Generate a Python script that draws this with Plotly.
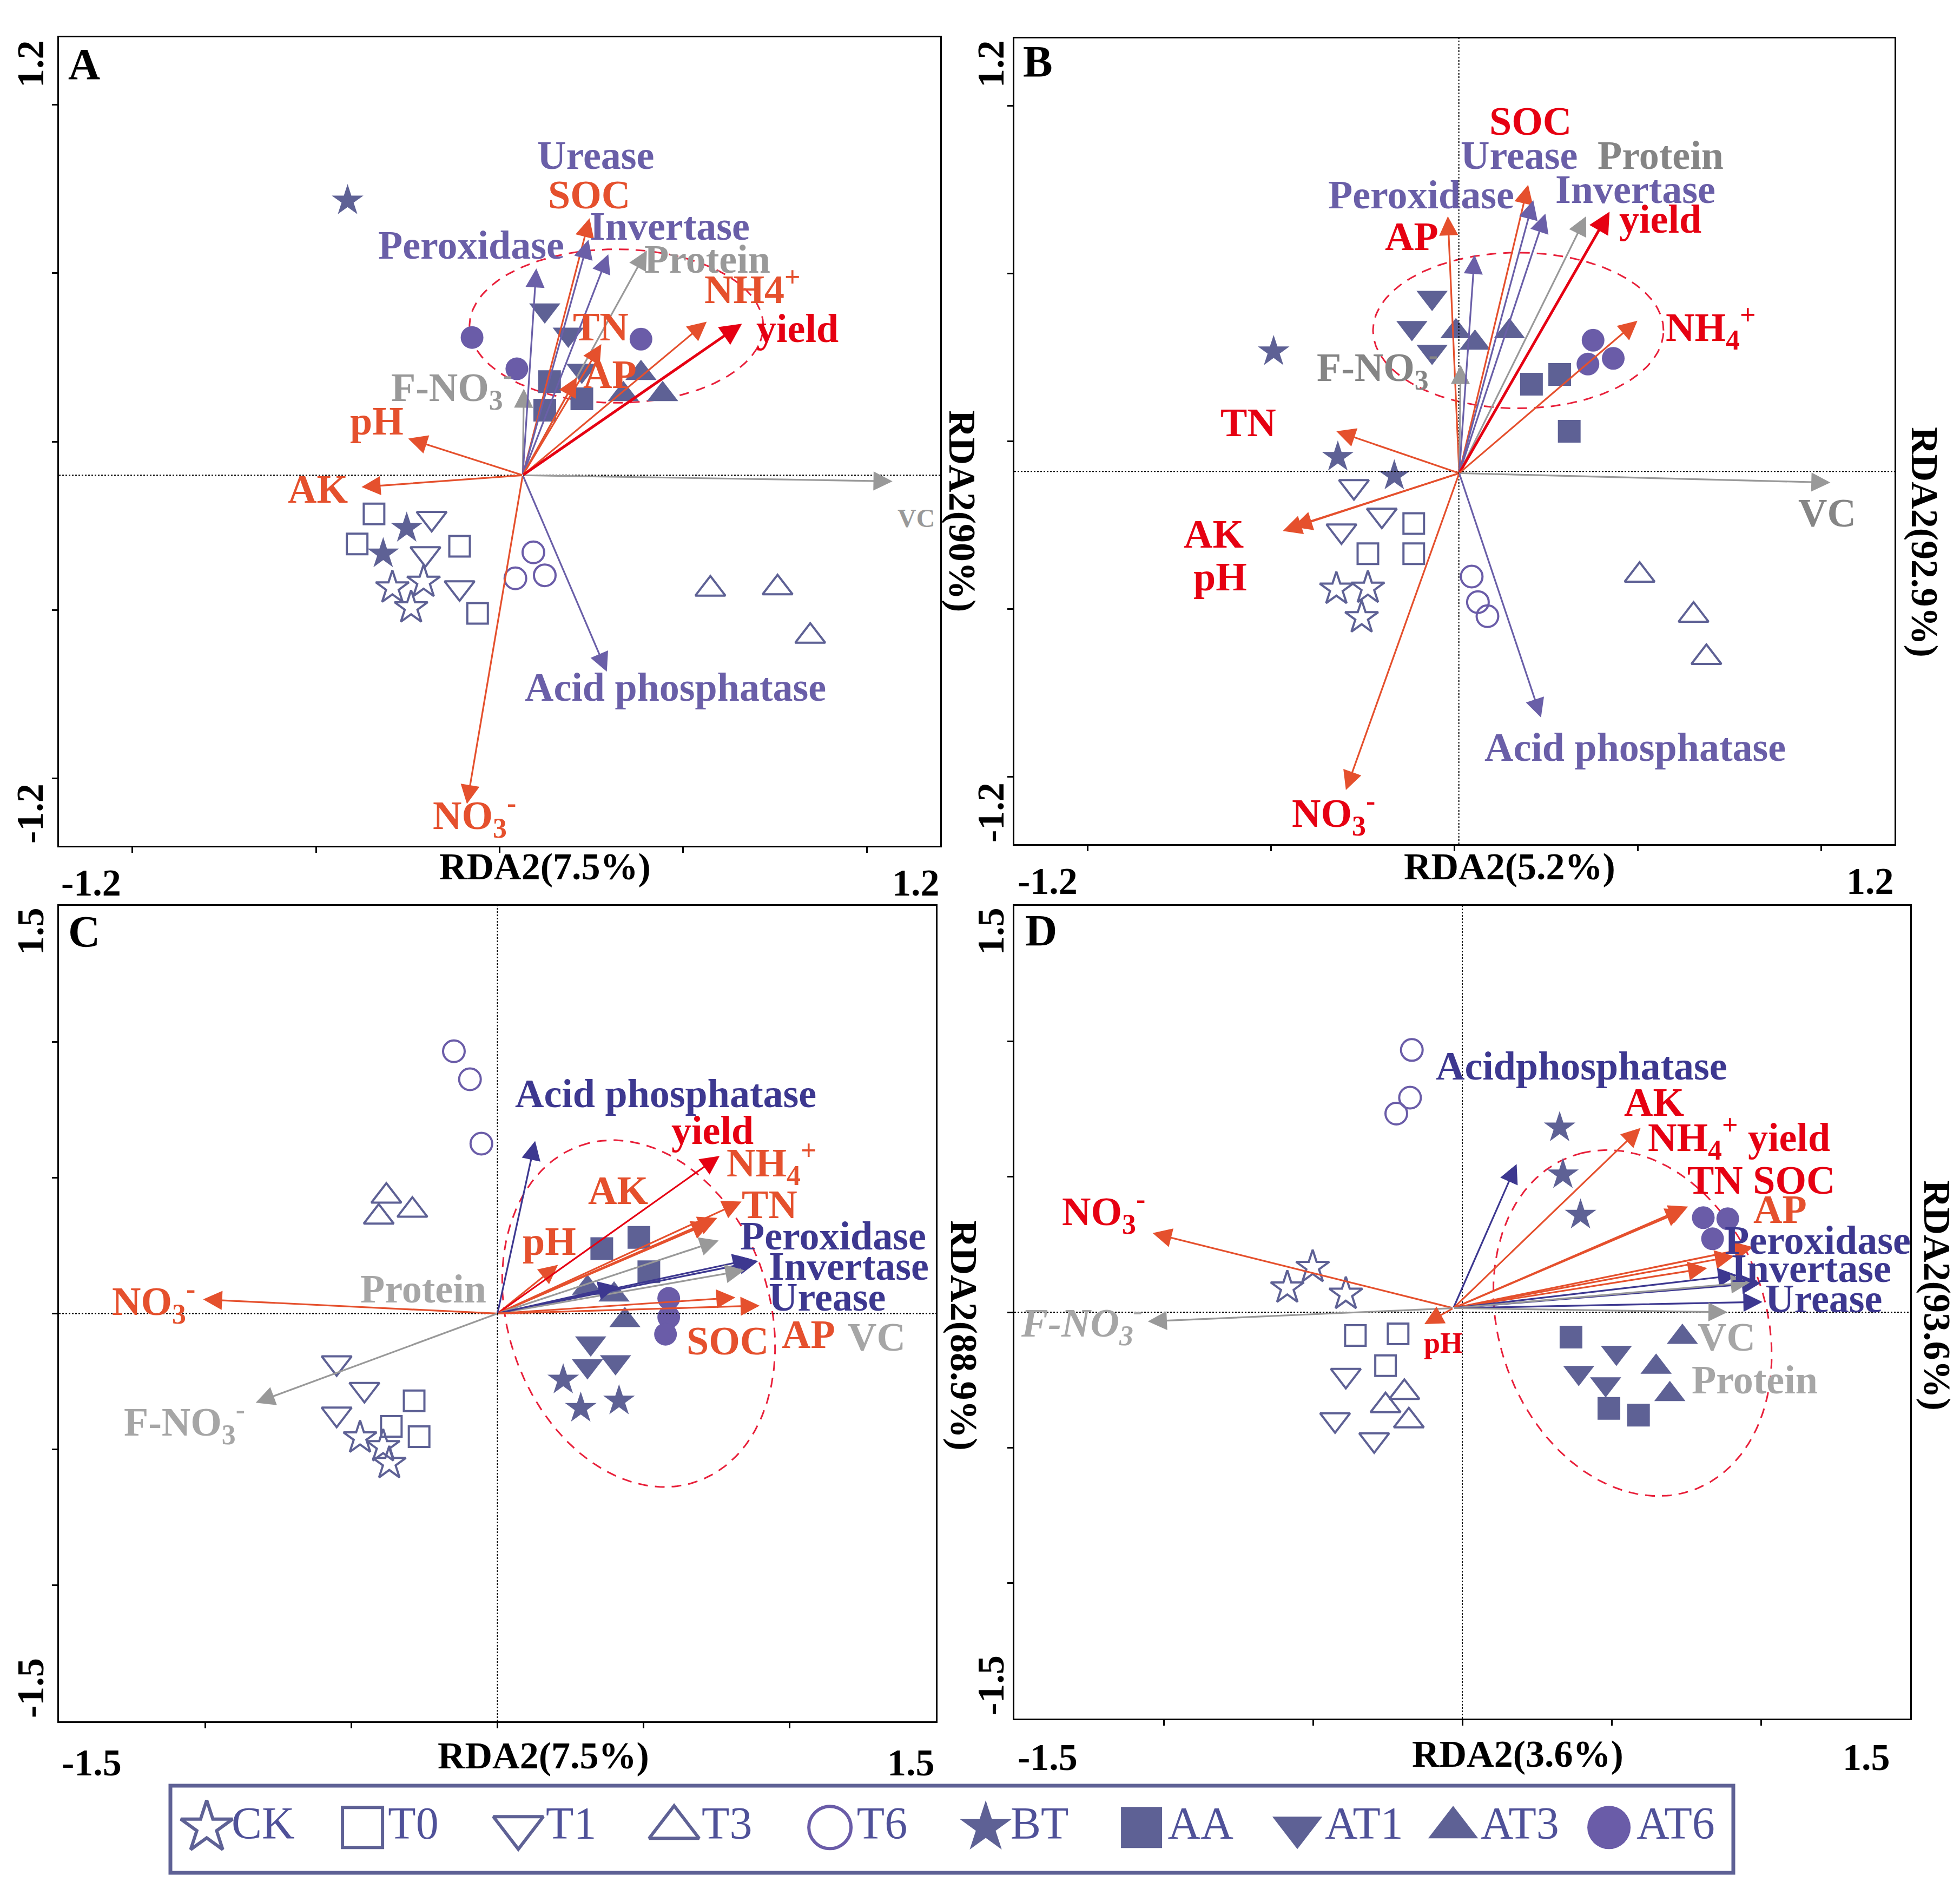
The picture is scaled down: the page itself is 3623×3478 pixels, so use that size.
import numpy as np
import plotly.graph_objects as go

W, H = 3623, 3478
FONT = "Liberation Serif"

# ---------------- data ----------------
GROUPS = ["CK", "T0", "T1", "T3", "T6", "BT", "AA", "AT1", "AT3", "AT6"]

STD_GROUP = ["CK"] * 3 + ["T0"] * 3 + ["T1"] * 3 + ["T3"] * 3 + ["T6"] * 3 + \
            ["BT"] * 3 + ["AA"] * 3 + ["AT1"] * 3 + ["AT3"] * 3 + ["AT6"] * 3

# Panel A (RDA1 90 %, RDA2 7.5 %)
A_SCORE_GROUP = ["CK"] * 3 + ["T0"] * 4 + ["T1"] * 3 + ["T3"] * 3 + ["T6"] * 3 + \
                ["BT"] * 3 + ["AA"] * 3 + ["AT1"] * 3 + ["AT3"] * 3 + ["AT6"] * 3
A_SCORE_X = [-0.292, -0.207, -0.241, -0.342, -0.388, -0.109, -0.060, -0.185, -0.202, -0.109,
             0.574, 0.757, 0.846, 0.092, 0.043, 0.123, -0.414, -0.253, -0.317,
             0.136, 0.123, 0.224, 0.123, 0.187, 0.224, 0.385, 0.337, 0.444, -0.075, 0.047, 0.385]
A_SCORE_Y = [-0.434, -0.417, -0.493, -0.215, -0.304, -0.311, -0.510, -0.228, -0.333, -0.434,
             -0.438, -0.434, -0.578, -0.329, -0.406, -0.397, 0.715, -0.257, -0.333,
             0.178, 0.093, 0.127, 0.390, 0.318, 0.211, 0.203, 0.140, 0.140, 0.309, 0.216, 0.304]
A_VAR = ["VC", "AK", "pH", "F-NO3-", "NO3-", "Acid phosphatase", "Peroxidase", "SOC", "Urease",
         "Invertase", "Protein", "TN", "AP", "NH4+", "yield"]
A_VAR_X = [1.070, -0.376, -0.249, 0.066, -0.089, 0.292, 0.100, 0.245, 0.242, 0.296, 0.401, 0.277, 0.21, 0.564, 0.660]
A_VAR_Y = [-0.118, -0.135, 0.009, 0.157, -1.076, -0.683, 0.514, 0.663, 0.599, 0.556, 0.567, 0.289, 0.19, 0.356, 0.350]
A_ORIGIN = [0.063, -0.100]

# Panel B (RDA1 92.9 %, RDA2 5.2 %)
B_SCORE_GROUP = STD_GROUP
B_SCORE_X = [-0.322, -0.236, -0.253, -0.111, -0.236, -0.111, -0.274, -0.198, -0.308,
             0.505, 0.652, 0.687, 0.047, 0.064, 0.090, -0.493, -0.318, -0.164,
             0.210, 0.287, 0.313, -0.061, -0.116, -0.061, 0.004, 0.056, 0.150, 0.378, 0.364, 0.433]
B_SCORE_Y = [-0.440, -0.437, -0.525, -0.245, -0.335, -0.335, -0.135, -0.220, -0.267,
             -0.399, -0.518, -0.644, -0.403, -0.479, -0.521, 0.267, -0.047, -0.103,
             0.170, 0.199, 0.030, 0.428, 0.338, 0.267, 0.327, 0.293, 0.327, 0.301, 0.230, 0.247]
B_VAR = ["VC", "AK", "pH", "TN", "NO3-", "Acid phosphatase", "AP", "F-NO3-", "Peroxidase", "SOC",
         "Urease", "Invertase", "Protein", "yield", "NH4+"]
B_VAR_X = [1.025, -0.468, -0.440, -0.322, -0.296, 0.236, -0.018, 0.017, 0.055, 0.201, 0.215, 0.248, 0.359, 0.423, 0.499]
B_VAR_Y = [-0.123, -0.267, -0.255, 0.030, -1.039, -0.823, 0.670, 0.227, 0.555, 0.764, 0.718, 0.678, 0.670, 0.684, 0.359]
B_ORIGIN = [0.013, -0.095]

# Panel C (RDA1 88.9 %, RDA2 7.5 %)
C_SCORE_GROUP = STD_GROUP
C_SCORE_X = [-0.470, -0.391, -0.370, -0.285, -0.363, -0.268, -0.550, -0.455, -0.550,
             -0.380, -0.406, -0.291, -0.149, -0.094, -0.055, 0.225, 0.285, 0.416,
             0.357, 0.484, 0.518, 0.319, 0.308, 0.404, 0.308, 0.399, 0.436, 0.586, 0.586, 0.575]
C_SCORE_Y = [-0.457, -0.489, -0.551, -0.321, -0.415, -0.453, -0.181, -0.279, -0.370,
             0.432, 0.355, 0.380, 0.965, 0.862, 0.625, -0.244, -0.348, -0.321,
             0.239, 0.280, 0.154, -0.109, -0.193, -0.178, 0.094, 0.069, -0.025, 0.056, -0.013, -0.076]
C_VAR = ["NO3-", "F-NO3-", "Acid phosphatase", "pH", "yield", "NH4+", "TN", "AK", "Protein",
         "Peroxidase", "Invertase", "VC", "Urease", "SOC", "AP"]
C_VAR_X = [-1.007, -0.827, 0.129, 0.207, 0.760, 0.835, 0.752, 0.730, 0.757, 0.870, 0.892, 0.845, 0.410, 0.814, 0.897]
C_VAR_Y = [0.052, -0.328, 0.635, 0.179, 0.580, 0.412, 0.352, 0.335, 0.269, 0.200, 0.193, 0.159, 0.100, 0.059, 0.029]
C_ORIGIN = [0.0, 0.0]

# Panel D (RDA1 93.6 %, RDA2 3.6 %)
D_SCORE_GROUP = STD_GROUP
D_SCORE_X = [-0.501, -0.586, -0.390, -0.358, -0.215, -0.257, -0.390, -0.426, -0.295,
             -0.194, -0.257, -0.179, -0.169, -0.175, -0.221, 0.326, 0.337, 0.396,
             0.364, 0.491, 0.590, 0.516, 0.390, 0.480, 0.737, 0.649, 0.695, 0.807, 0.889, 0.838]
D_SCORE_Y = [0.166, 0.090, 0.067, -0.086, -0.080, -0.197, -0.233, -0.397, -0.471,
             -0.296, -0.345, -0.401, 0.968, 0.792, 0.733, 0.681, 0.508, 0.359,
             -0.092, -0.355, -0.380, -0.149, -0.223, -0.265, -0.092, -0.202, -0.303, 0.349, 0.345, 0.271]
D_VAR = ["NO3-", "F-NO3-", "pH", "Acid phosphatase", "AK", "NH4+", "TN", "yield", "SOC", "AP",
         "Peroxidase", "Invertase", "Protein", "Urease", "VC"]
D_VAR_X = [-1.037, -1.053, -0.127, 0.182, 0.597, 0.756, 0.745, 0.974, 0.910, 0.820, 0.920, 1.000, 0.963, 1.005, 0.888]
D_VAR_Y = [0.292, -0.034, -0.044, 0.547, 0.680, 0.390, 0.378, 0.240, 0.207, 0.163, 0.137, 0.108, 0.110, 0.038, 0.000]
D_ORIGIN = [-0.030, 0.015]

AXIS_LIMIT = {"A": 1.2, "B": 1.2, "C": 1.5, "D": 1.5}
X_TITLE = {"A": "RDA2(7.5%)", "B": "RDA2(5.2%)", "C": "RDA2(7.5%)", "D": "RDA2(3.6%)"}
Y_TITLE = {"A": "RDA2(90%)", "B": "RDA2(92.9%)", "C": "RDA2(88.9%)", "D": "RDA2(93.6%)"}

# ---------------- styles ----------------
SLATE = "#5e6195"
PURPLE_PT = "#6a5ca8"
ORANGE = "#e5502d"
RED = "#e60012"
PURPLE = "#6a5fa8"
DBLUE = "#3d3890"
GRAY = "#999999"
LGRAY = "#a6a6a6"
DGRAY = "#858585"
ELL = "#e8203a"

SYMBOL = {"CK": "star-open", "T0": "square-open", "T1": "triangle-down-open", "T3": "triangle-up-open",
          "T6": "circle-open", "BT": "star", "AA": "square", "AT1": "triangle-down",
          "AT3": "triangle-up", "AT6": "circle"}
SIZE = {"CK": 46, "T0": 38, "T1": 48, "T3": 48, "T6": 40, "BT": 44, "AA": 42, "AT1": 50, "AT3": 50, "AT6": 42}
LEG_SIZE = {"CK": 72, "T0": 74, "T1": 80, "T3": 80, "T6": 78, "BT": 72, "AA": 76, "AT1": 80, "AT3": 80, "AT6": 80}
GCOLOR = {g: SLATE for g in GROUPS}
GCOLOR["T6"] = PURPLE_PT
GCOLOR["AT6"] = PURPLE_PT

KIND = {"AK": "nut", "pH": "nut", "TN": "nut", "AP": "nut", "SOC": "nut", "NH4+": "nut", "NO3-": "nut",
        "yield": "yield", "VC": "qual", "Protein": "qual", "F-NO3-": "qual",
        "Urease": "enz", "Invertase": "enz", "Peroxidase": "enz", "Acid phosphatase": "enz"}
ARROW_COLOR = {
    "A": {"nut": ORANGE, "yield": RED, "qual": GRAY, "enz": PURPLE},
    "B": {"nut": ORANGE, "yield": RED, "qual": GRAY, "enz": PURPLE},
    "C": {"nut": ORANGE, "yield": RED, "qual": GRAY, "enz": DBLUE},
    "D": {"nut": ORANGE, "yield": ORANGE, "qual": GRAY, "enz": DBLUE},
}

NO3 = "NO<sub>3</sub><sup>-</sup>"
FNO3 = "F-NO<sub>3</sub><sup>-</sup>"
NH4 = "NH<sub>4</sub><sup>+</sup>"

# label placement (layout config): text, x, y, colour, font size
LABELS = {
    "A": [("Urease", 0.261, 0.850, PURPLE, 74), ("SOC", 0.244, 0.732, ORANGE, 74),
          ("Invertase", 0.464, 0.639, PURPLE, 74), ("Peroxidase", -0.077, 0.583, PURPLE, 74),
          ("Protein", 0.566, 0.541, GRAY, 74), ("NH4<sup>+</sup>", 0.689, 0.460, ORANGE, 74),
          ("yield", 0.811, 0.335, RED, 74), ("TN", 0.275, 0.340, ORANGE, 74),
          ("AP", 0.300, 0.200, ORANGE, 74), (FNO3, -0.131, 0.160, GRAY, 74),
          ("pH", -0.334, 0.061, ORANGE, 74), ("AK", -0.495, -0.142, ORANGE, 74),
          ("VC", 1.134, -0.228, GRAY, 48), ("Acid phosphatase", 0.479, -0.730, PURPLE, 74),
          (NO3, -0.069, -1.110, ORANGE, 74)],
    "B": [("SOC", 0.207, 0.954, RED, 74), ("Urease", 0.176, 0.852, PURPLE, 74),
          ("Protein", 0.562, 0.852, DGRAY, 74), ("Peroxidase", -0.090, 0.734, PURPLE, 74),
          ("Invertase", 0.493, 0.751, PURPLE, 74), ("AP", -0.116, 0.610, RED, 74),
          ("yield", 0.562, 0.661, RED, 74), (NH4, 0.699, 0.340, RED, 74),
          (FNO3, -0.210, 0.220, DGRAY, 74), ("TN", -0.562, 0.055, RED, 74),
          ("AK", -0.656, -0.276, RED, 74), ("pH", -0.639, -0.403, RED, 74),
          ("VC", 1.016, -0.213, DGRAY, 74), ("Acid phosphatase", 0.493, -0.912, PURPLE, 74),
          (NO3, -0.330, -1.108, RED, 74)],
    "C": [("Acid phosphatase", 0.576, 0.809, DBLUE, 74), ("yield", 0.735, 0.673, RED, 74),
          (NH4, 0.937, 0.555, ORANGE, 74), ("AK", 0.412, 0.453, ORANGE, 74),
          ("TN", 0.930, 0.401, ORANGE, 74), ("pH", 0.178, 0.265, ORANGE, 74),
          ("Peroxidase", 1.149, 0.286, DBLUE, 74), ("Invertase", 1.202, 0.175, DBLUE, 74),
          ("Urease", 1.128, 0.060, DBLUE, 74), ("Protein", -0.253, 0.091, LGRAY, 74),
          (NO3, -1.177, 0.045, ORANGE, 74), ("SOC", 0.788, -0.101, ORANGE, 74),
          ("AP", 1.064, -0.076, ORANGE, 74), ("VC", 1.298, -0.087, LGRAY, 74),
          (FNO3, -1.071, -0.400, LGRAY, 74)],
    "D": [("Acidphosphatase", 0.400, 0.908, DBLUE, 74), ("AK", 0.642, 0.775, RED, 74),
          (NH4 + " yield", 0.927, 0.645, RED, 74), ("TN SOC", 1.001, 0.487, RED, 74),
          ("AP", 1.064, 0.380, ORANGE, 74), ("Peroxidase", 1.190, 0.265, DBLUE, 74),
          ("Invertase", 1.169, 0.162, DBLUE, 74), ("Urease", 1.211, 0.050, DBLUE, 74),
          ("VC", 0.885, -0.092, LGRAY, 74), ("Protein", 0.979, -0.250, LGRAY, 74),
          (NO3, -1.201, 0.372, RED, 74), ("<i>" + FNO3 + "</i>", -1.275, -0.040, LGRAY, 74),
          ("pH", -0.063, -0.113, RED, 54)],
}

# dashed group ellipses: centre x, centre y, semi-axis a, semi-axis b, angle (deg)
ELLIPSE = {"A": (0.318, 0.343, 0.400, 0.228, 0.0),
           "B": (0.174, 0.330, 0.396, 0.232, 0.0),
           "C": (0.483, 0.000, 0.650, 0.450, 105.4),
           "D": (0.570, -0.040, 0.650, 0.450, 105.0)}
# dotted reference lines (h, v); None = not drawn
REFLINES = {"A": (-0.100, None), "B": (-0.090, 0.012), "C": (0.0, 0.0), "D": (0.0, 0.0)}

# panel boxes in pixels (left, right, top, bottom)
BOX = {"A": (101, 1730, 61, 1555), "B": (1867, 3494, 63, 1552),
       "C": (101, 1722, 1666, 3173), "D": (1867, 3523, 1666, 3168)}
# text positions in pixels
PIXTEXT = {
    "A": dict(xl=(160, 1623), xr=(1685, 1623), xt=(999, 1594), yt=(48, 110), yb=(48, 1496), rt=(1771, 936), let=(147, 110)),
    "B": dict(xl=(1928, 1620), xr=(3449, 1620), xt=(2782, 1594), yt=(1823, 110), yb=(1823, 1494), rt=(3550, 994), let=(1910, 105)),
    "C": dict(xl=(161, 3249), xr=(1676, 3249), xt=(996, 3236), yt=(48, 1713), yb=(48, 3112), rt=(1774, 2460), let=(147, 1713)),
    "D": dict(xl=(1928, 3239), xr=(3442, 3239), xt=(2797, 3233), yt=(1823, 1713), yb=(1823, 3107), rt=(3573, 2386), let=(1916, 1711)),
}

DATA = {
    "A": (A_SCORE_GROUP, A_SCORE_X, A_SCORE_Y, A_VAR, A_VAR_X, A_VAR_Y, A_ORIGIN),
    "B": (B_SCORE_GROUP, B_SCORE_X, B_SCORE_Y, B_VAR, B_VAR_X, B_VAR_Y, B_ORIGIN),
    "C": (C_SCORE_GROUP, C_SCORE_X, C_SCORE_Y, C_VAR, C_VAR_X, C_VAR_Y, C_ORIGIN),
    "D": (D_SCORE_GROUP, D_SCORE_X, D_SCORE_Y, D_VAR, D_VAR_X, D_VAR_Y, D_ORIGIN),
}

fig = go.Figure()
layout = dict(width=W, height=H, margin=dict(l=0, r=0, t=0, b=0),
              paper_bgcolor="white", plot_bgcolor="white", showlegend=False)
annotations = []
shapes = []


def px(xp, yp):
    return xp / W, 1 - yp / H


for i, key in enumerate(["A", "B", "C", "D"]):
    n = "" if i == 0 else str(i + 1)
    xr, yr = "x" + n, "y" + n
    lim = AXIS_LIMIT[key]
    l, r, t, b = BOX[key]
    ax_common = dict(range=[-lim, lim], showgrid=False, zeroline=False, showline=True, mirror=True,
                     linecolor="black", linewidth=3, ticks="outside", ticklen=10, tickwidth=3,
                     tickcolor="black", tickvals=[-1, -0.5, 0, 0.5, 1], showticklabels=False,
                     fixedrange=True)
    layout["xaxis" + n] = dict(ax_common, domain=[l / W, r / W], anchor=yr)
    layout["yaxis" + n] = dict(ax_common, domain=[1 - b / H, 1 - t / H], anchor=xr)

    grp, sx, sy, var, vx, vy, org = DATA[key]

    # reference lines
    hy, vx0 = REFLINES[key]
    if hy is not None:
        shapes.append(dict(type="line", xref=xr, yref=yr, x0=-lim, x1=lim, y0=hy, y1=hy,
                           line=dict(color="black", width=2, dash="dot")))
    if vx0 is not None:
        shapes.append(dict(type="line", xref=xr, yref=yr, x0=vx0, x1=vx0, y0=-lim, y1=lim,
                           line=dict(color="black", width=2, dash="dot")))

    # ellipse
    cx, cy, ea, eb, ang = ELLIPSE[key]
    tt = np.linspace(0, 2 * np.pi, 240)
    th = np.deg2rad(ang)
    ex = cx + ea * np.cos(tt) * np.cos(th) - eb * np.sin(tt) * np.sin(th)
    ey = cy + ea * np.cos(tt) * np.sin(th) + eb * np.sin(tt) * np.cos(th)
    fig.add_trace(go.Scatter(x=ex, y=ey, mode="lines", xaxis=xr, yaxis=yr, hoverinfo="skip",
                             line=dict(color=ELL, width=3, dash="18px,13px")))

    # sample scores
    for g in GROUPS:
        xs = [x for gg, x in zip(grp, sx) if gg == g]
        ys = [y for gg, y in zip(grp, sy) if gg == g]
        openm = SYMBOL[g].endswith("open")
        fig.add_trace(go.Scatter(
            x=xs, y=ys, mode="markers", xaxis=xr, yaxis=yr, name=g, cliponaxis=False,
            marker=dict(symbol=SYMBOL[g], size=SIZE[g], color=GCOLOR[g],
                        line=dict(width=4 if openm else 0, color=GCOLOR[g]))))

    # arrows
    for name, tx, ty in zip(var, vx, vy):
        kind = KIND[name]
        w = 5 if kind == "yield" and key in ("A", "B") else 3.2
        annotations.append(dict(x=tx, y=ty, ax=org[0], ay=org[1], xref=xr, yref=yr, axref=xr, ayref=yr,
                                text="", showarrow=True, arrowhead=2, arrowsize=1.6 if w > 4 else 2.2,
                                arrowwidth=w, arrowcolor=ARROW_COLOR[key][kind], standoff=0))

    # labels
    for txt, lx, ly, col, fs in LABELS[key]:
        annotations.append(dict(x=lx, y=ly, xref=xr, yref=yr, text="<b>" + txt + "</b>", showarrow=False,
                                xanchor="center", yanchor="middle",
                                font=dict(family=FONT, size=fs, color=col)))

    # axis texts
    P = PIXTEXT[key]
    lab = "1.2" if lim == 1.2 else "1.5"
    items = [("-" + lab, P["xl"], 0, 70), (lab, P["xr"], 0, 70), (X_TITLE[key], P["xt"], 0, 70),
             (lab, P["yt"], -90, 70), ("-" + lab, P["yb"], -90, 70), (Y_TITLE[key], P["rt"], 90, 70),
             (key, P["let"], 0, 82)]
    for txt, (ppx, ppy), angle, fs in items:
        xx, yy = px(ppx, ppy)
        annotations.append(dict(x=xx, y=yy, xref="paper", yref="paper", text="<b>" + txt + "</b>",
                                showarrow=False, textangle=angle, xanchor="center", yanchor="middle",
                                font=dict(family=FONT, size=fs, color="black")))

# ---------------- custom legend ----------------
LEG_BOX = (307, 3196, 3292, 3453)
n_items = len(GROUPS)
span = (LEG_BOX[1] - LEG_BOX[0]) / 288.0
layout["xaxis5"] = dict(domain=[LEG_BOX[0] / W, LEG_BOX[1] / W], range=[0, span], visible=False,
                        fixedrange=True, anchor="y5")
layout["yaxis5"] = dict(domain=[1 - LEG_BOX[3] / H, 1 - LEG_BOX[2] / H], range=[0, 1], visible=False,
                        fixedrange=True, anchor="x5")
for k, g in enumerate(GROUPS):
    openm = SYMBOL[g].endswith("open")
    fig.add_trace(go.Scatter(
        x=[k + 0.233], y=[0.52], mode="markers+text", xaxis="x5", yaxis="y5", cliponaxis=False,
        text=[g], textposition="middle right",
        textfont=dict(family=FONT, size=84, color="#4f5199"),
        marker=dict(symbol=SYMBOL[g], size=LEG_SIZE[g], color=GCOLOR[g],
                    line=dict(width=6 if openm else 0, color=GCOLOR[g])),
        hoverinfo="skip"))
shapes.append(dict(type="rect", xref="paper", yref="paper",
                   x0=LEG_BOX[0] / W, x1=LEG_BOX[1] / W, y0=1 - LEG_BOX[3] / H, y1=1 - LEG_BOX[2] / H,
                   line=dict(color=SLATE, width=7), fillcolor="rgba(0,0,0,0)"))

layout["annotations"] = annotations
layout["shapes"] = shapes
fig.update_layout(**layout)
fig.write_html("out.html")
